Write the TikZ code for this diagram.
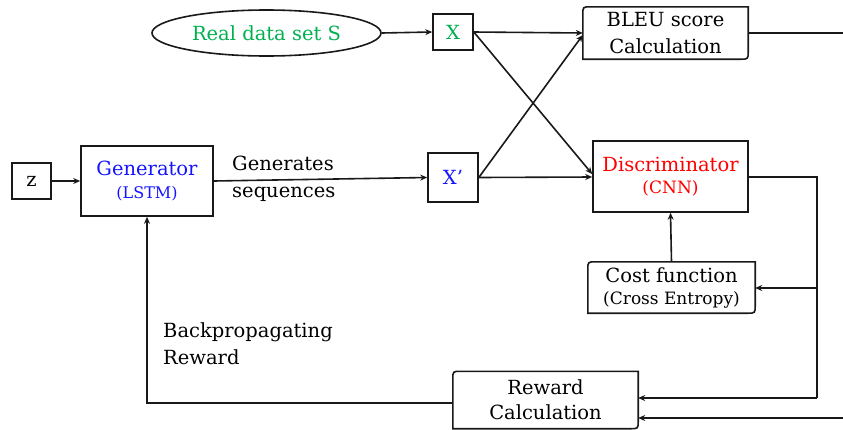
\documentclass[tikz,border=0pt]{standalone}
\usepackage{fontspec}
\setmainfont{DejaVu Serif}
\usetikzlibrary{arrows.meta,calc,shapes.geometric}
\definecolor{dgreen}{RGB}{0,176,80}
\definecolor{dblue}{RGB}{20,20,255}
\definecolor{dred}{RGB}{255,0,0}
\newcommand\diagoutline[1]{%
  \draw[line] (#1.north east) -- ($(#1.south east)+(0,-8)$) .. controls (#1.south east) .. ($(#1.south east)+(-8,0)$)
    -- (#1.south west) -- ($(#1.north west)+(0,8)$) .. controls (#1.north west) .. ($(#1.north west)+(8,0)$) -- cycle;}
\tikzset{
  line/.style={line width=1.6pt, draw=black!90},
  arr/.style={line, -{Stealth[length=7pt,width=6pt]}},
  sqbox/.style={draw=black!90, line width=1.6pt, rectangle, inner sep=0pt, align=center},
  rbox/.style={rectangle, inner sep=0pt, align=center},
  big/.style={font=\fontsize{19.5}{26}\selectfont},
  lbl/.style={inner sep=0pt, align=left, anchor=west, font=\fontsize{19.5}{27}\selectfont}
}
\begin{document}
\begin{tikzpicture}[x=1pt,y=-1pt]
\useasboundingbox (0,0) rectangle (843,429);
% nodes
\node[sqbox, big, minimum width=39pt, minimum height=36pt] (z) at (31.5,181) {z};
\node[sqbox, font=\fontsize{19.5}{25}\selectfont, text=dblue, minimum width=132pt, minimum height=70pt] (gen) at (147,181)
  {\raisebox{-2pt}{Generator}\\{\fontsize{16}{25}\selectfont (LSTM)}};
\node[sqbox, big, text=dblue, minimum width=50pt, minimum height=49pt] (xp) at (453,177.5) {X’};
\node[ellipse, draw=black!90, line width=1.6pt, big, text=dgreen, minimum width=229pt, minimum height=46pt, inner sep=0pt] (S) at (266.5,33) {Real data set S};
\node[sqbox, big, text=dgreen, minimum width=40pt, minimum height=36pt] (xr) at (453,32) {X};
\node[rbox, font=\fontsize{19.5}{27}\selectfont, minimum width=165pt, minimum height=52pt] (bleu) at (665.5,33) {BLEU score\\Calculation};
\diagoutline{bleu}
\node[sqbox, font=\fontsize{19.5}{24}\selectfont, text=dred, minimum width=155pt, minimum height=71pt] (disc) at (670.5,176.5)
  {\raisebox{-2pt}{Discriminator}\\{\fontsize{17}{24}\selectfont (CNN)}};
\node[rbox, font=\fontsize{19.5}{24}\selectfont, minimum width=167pt, minimum height=51pt] (cost) at (671.5,287.5)
  {\raisebox{-2pt}{Cost function}\\{\fontsize{17}{24}\selectfont (Cross Entropy)}};
\diagoutline{cost}
\node[rbox, font=\fontsize{19.5}{25}\selectfont, minimum width=185pt, minimum height=57pt] (rew) at (545.5,400) {Reward\\Calculation};
\diagoutline{rew}
% labels
\node[lbl] (gs) at (232,179) {Generates\\sequences};
\node[lbl] (bp) at (163,344) {Backpropagating\\Reward};
% free ends
\coordinate (bleuout) at (843,33);
\coordinate (rewin) at (843,418);
\coordinate (rt) at (817,177);
\coordinate (rb) at (817,398);
\coordinate (rm) at (817,288);
\coordinate (lb) at (147,403);
\coordinate (dw) at (593,177);
% connectors
\draw[arr] (z.east) -- (gen.west);
\draw[arr] (gen.east) -- (xp.west);
\draw[arr] (S.east) -- (xr.west);
\draw[arr] (xr.east) -- ([yshift=3pt]dw -| disc.west);
\draw[arr] (xr.east) -- (bleu.west);
\draw[arr] (xp.east) -- ([yshift=-2pt]bleu.west);
\draw[arr] (xp.east) -- (dw -| disc.west);
\draw[line] (bleu.east) -- (bleuout);
\draw[line] (rt -| disc.east) -- (rt) -- (rb);
\draw[arr] (rb) -- (rb -| rew.east);
\draw[arr] (rm) -- (rm -| cost.east);
\draw[arr] (cost.north) -- (disc.south);
\draw[arr] (rewin) -- (rewin -| rew.east);
\draw[arr] (lb -| rew.west) -- (lb) -- (gen.south);
\end{tikzpicture}
\end{document}
